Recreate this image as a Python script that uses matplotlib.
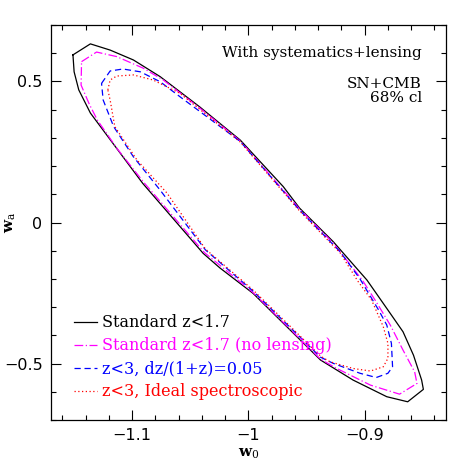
import matplotlib
matplotlib.use("Agg")
import matplotlib.pyplot as plt
from matplotlib.ticker import MultipleLocator

plt.rcParams["mathtext.fontset"] = "dejavuserif"

# contour outlines (w0, wa)
std_w0 = [-1.151, -1.136, -1.119, -1.099, -1.076, -1.042, -1.007, -0.970, -0.956,
          -0.927, -0.898, -0.880, -0.867, -0.858, -0.851, -0.8495, -0.863, -0.881,
          -0.910, -0.938, -0.996, -1.0245, -1.039, -1.091, -1.108, -1.136, -1.146, -1.150, -1.151]
std_wa = [0.594, 0.633, 0.611, 0.576, 0.517, 0.410, 0.292, 0.127, 0.051,
          -0.068, -0.204, -0.310, -0.387, -0.470, -0.558, -0.591, -0.635, -0.617,
          -0.558, -0.487, -0.251, -0.161, -0.109, 0.139, 0.233, 0.388, 0.470, 0.534, 0.594]

nolens_w0 = [-1.1436, -1.1307, -1.1134, -1.0906, -1.0733, -1.042, -1.007, -0.956, -0.927,
             -0.902, -0.891, -0.878, -0.867, -0.857, -0.855, -0.870, -0.895, -0.924,
             -0.938, -0.996, -1.038, -1.090, -1.113, -1.130, -1.137, -1.144, -1.1436]
nolens_wa = [0.570, 0.604, 0.588, 0.547, 0.505, 0.406, 0.289, 0.048, -0.073,
             -0.204, -0.275, -0.363, -0.452, -0.529, -0.570, -0.608, -0.576, -0.517,
             -0.484, -0.248, -0.106, 0.142, 0.262, 0.363, 0.420, 0.487, 0.570]

photz_w0 = [-1.1264, -1.119, -1.108, -1.093, -1.076, -1.059, -1.007, -0.956, -0.921,
            -0.904, -0.888, -0.881, -0.877, -0.876, -0.880, -0.890, -0.904, -0.927,
            -0.938, -0.996, -1.037, -1.076, -1.099, -1.116, -1.125, -1.1264]
photz_wa = [0.493, 0.537, 0.544, 0.534, 0.499, 0.446, 0.287, 0.044, -0.104,
            -0.200, -0.310, -0.363, -0.428, -0.511, -0.534, -0.549, -0.534, -0.499,
            -0.477, -0.243, -0.097, 0.115, 0.233, 0.340, 0.434, 0.493]

spec_w0 = [-1.121, -1.119, -1.1134, -1.099, -1.082, -1.059, -1.007, -0.956, -0.921,
           -0.906, -0.894, -0.884, -0.880, -0.880, -0.884, -0.895, -0.910, -0.930,
           -0.938, -0.996, -1.037, -1.070, -1.096, -1.115, -1.119, -1.121]
spec_wa = [0.470, 0.505, 0.519, 0.523, 0.505, 0.458, 0.285, 0.041, -0.108,
           -0.207, -0.275, -0.369, -0.428, -0.481, -0.511, -0.526, -0.517, -0.493,
           -0.473, -0.239, -0.094, 0.104, 0.222, 0.340, 0.434, 0.470]

labels = ["Standard z<1.7", "Standard z<1.7 (no lensing)",
          "z<3, dz/(1+z)=0.05", "z<3, Ideal spectroscopic"]

fig = plt.figure(figsize=(4.71, 4.71), dpi=100)
ax = fig.add_axes([0.108, 0.108, 0.839, 0.839])

ax.plot(std_w0, std_wa, color="black", lw=0.9, label=labels[0])
ax.plot(nolens_w0, nolens_wa, color="#ff00ff", lw=0.9, dashes=(7, 2, 1, 2), label=labels[1])
ax.plot(photz_w0, photz_wa, color="#0000ff", lw=0.9, dashes=(5, 3), label=labels[2])
ax.plot(spec_w0, spec_wa, color="#ff0000", lw=0.9, dashes=(1, 2), label=labels[3])

ax.set_xlim(-1.17, -0.83)
ax.set_ylim(-0.7, 0.7)
ax.xaxis.set_minor_locator(MultipleLocator(0.02))
ax.yaxis.set_minor_locator(MultipleLocator(0.1))
ax.set_xticks([-1.1, -1.0, -0.9])
ax.set_xticklabels(["\u22121.1", "\u22121", "\u22120.9"])
ax.set_yticks([-0.5, 0, 0.5])
ax.set_yticklabels(["\u22120.5", "0", "0.5"])
ax.tick_params(which="both", direction="in", top=True, right=True, labelsize=11.5, width=0.8)
ax.tick_params(which="major", length=7, pad=6)
ax.tick_params(which="minor", length=3.5)
for s in ax.spines.values():
    s.set_linewidth(0.9)

ax.set_xlabel(r"w$_\mathrm{0}$", family="DejaVu Serif", fontsize=11, fontweight="bold", labelpad=2)
ax.set_ylabel(r"w$_\mathrm{a}$", family="DejaVu Serif", fontsize=11, fontweight="bold")
ax.yaxis.set_label_coords(-0.082, 0.5)

txt = dict(transform=ax.transAxes, ha="right", va="baseline",
           family="DejaVu Serif", fontsize=11)
ax.text(0.939, 0.918, "With systematics+lensing", **txt)
ax.text(0.939, 0.8405, "SN+CMB", **txt)
ax.text(0.939, 0.805, "68% cl", **txt)

ax.legend(loc="lower left", bbox_to_anchor=(0.058, 0.05), frameon=False,
          borderpad=0, borderaxespad=0,
          handlelength=1.45, handletextpad=0.3, labelspacing=0.38,
          prop={"family": "DejaVu Serif", "size": 11.5}, labelcolor="linecolor")

fig.savefig("out.png", dpi=100)
